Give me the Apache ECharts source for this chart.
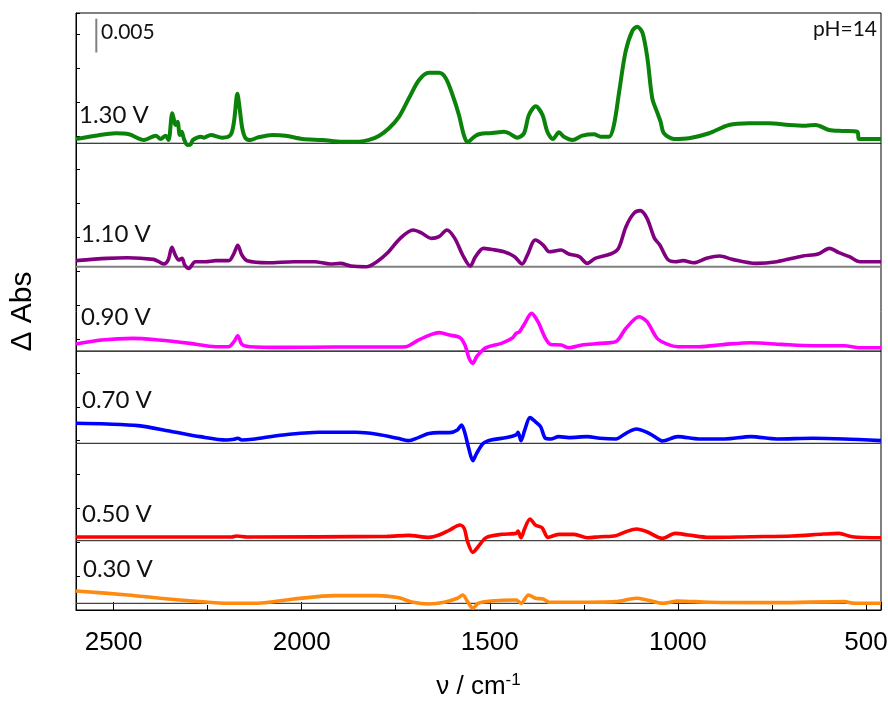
<!DOCTYPE html>
<html>
<head>
<meta charset="utf-8">
<script src="https://cdn.jsdelivr.net/npm/echarts@6/dist/echarts.min.js"></script>
<style>
html,body{margin:0;padding:0;background:#fff;}
#chart{width:888px;height:711px;}
</style>
</head>
<body>
<div id="chart"></div>
<script>
// wavenumber (cm^-1) vs. dAbs (units of 1e-3), each spectrum relative to its own baseline
const potentials = ['1.30 V', '1.10 V', '0.90 V', '0.70 V', '0.50 V', '0.30 V'];
const colors = ['#0b830b', '#800080', '#ff00ff', '#0000ff', '#ff0000', '#ff8a10'];
const offsets = [68.90, 50.68, 38.23, 24.61, 10.23, 0.99];
const xTicks = [2500, 2000, 1500, 1000, 500];
const scaleBar = [[2546, 82.3], [2546, 87.3]]; // 0.005 = 5 units

const v130 = [[2600,0.63],[2548,1.12],[2494,1.48],[2459,1.33],[2419,0.49],[2388,1.12],[2375,0.63],[2362,1.12],[2354,0.49],[2344,4.43],[2335,2.70],[2330,3.19],[2324,1.23],[2319,1.71],[2313,0.63],[2304,-0.25],[2295,-0.15],[2289,0.49],[2268,0.97],[2260,0.83],[2242,1.23],[2211,0.83],[2189,1.23],[2180,3.19],[2171,7.3],[2165,5.17],[2158,2.21],[2149,0.74],[2136,0.49],[2118,0.83],[2078,1.23],[2043,1.12],[1998,0.63],[1945,0.49],[1892,0.24],[1848,0.24],[1821,0.49],[1794,1.12],[1768,2.21],[1741,3.93],[1715,6.64],[1688,9.34],[1662,10.4],[1635,10.4],[1617,9.60],[1599,7.13],[1582,4.18],[1569,1.23],[1559,0.15],[1546,0.74],[1537,1.12],[1529,1.33],[1511,1.48],[1502,1.48],[1462,1.71],[1449,1.48],[1427,0.83],[1409,1.48],[1396,4.18],[1378,5.45],[1360,4.18],[1347,1.71],[1332,0.63],[1316,1.62],[1303,0.97],[1280,0.49],[1254,1.12],[1223,1.33],[1205,0.97],[1183,0.97],[1170,2.70],[1156,7.62],[1139,13.52],[1121,16.6],[1108,17.2],[1094,16.3],[1081,12.55],[1068,6.64],[1054,4.43],[1046,3.19],[1037,1.48],[1010,0.63],[970,0.74],[917,1.48],[864,2.70],[811,2.95],[758,2.95],[704,2.70],[660,2.60],[634,2.70],[598,1.96],[563,1.82],[523,1.71],[518,0.63],[460,0.63]];

const v110 = [[2600,0.89],[2518,1.23],[2463,1.33],[2394,1.08],[2380,0.74],[2366,0.39],[2355,0.98],[2345,2.85],[2336,1.72],[2327,0.98],[2318,1.23],[2311,0.25],[2300,-0.25],[2283,0.74],[2256,0.74],[2228,0.89],[2194,0.89],[2180,1.97],[2170,3.15],[2159,1.72],[2145,0.89],[2090,0.59],[2021,0.74],[1966,0.74],[1924,0.39],[1897,0.49],[1869,0.10],[1828,0.00],[1800,0.74],[1773,1.97],[1738,4.18],[1704,5.41],[1683,5.02],[1655,4.18],[1635,4.43],[1614,5.41],[1593,4.18],[1572,1.72],[1552,0.10],[1538,1.48],[1517,2.71],[1497,2.56],[1462,2.21],[1434,1.48],[1414,0.39],[1400,1.72],[1379,3.94],[1358,3.20],[1342,2.21],[1310,2.46],[1290,1.87],[1262,1.48],[1241,0.49],[1220,1.23],[1179,1.87],[1158,2.71],[1138,5.91],[1117,7.87],[1100,8.27],[1082,7.14],[1062,4.18],[1048,3.20],[1027,1.08],[1007,0.74],[986,0.89],[958,0.59],[924,1.23],[889,1.57],[855,1.08],[793,0.49],[737,0.74],[668,1.57],[627,1.87],[597,2.71],[572,2.07],[544,1.48],[516,0.74],[460,0.74]];

const v090 = [[2600,1.03],[2532,1.62],[2449,1.87],[2380,1.62],[2297,1.13],[2228,0.64],[2194,0.64],[2180,1.38],[2170,2.26],[2159,0.98],[2138,0.64],[2049,0.54],[1911,0.59],[1773,0.59],[1724,0.64],[1690,1.62],[1655,2.46],[1635,2.71],[1607,2.36],[1579,1.97],[1566,0.89],[1555,-1.08],[1545,-1.82],[1535,-0.84],[1510,0.49],[1469,1.13],[1441,1.87],[1430,2.61],[1421,2.85],[1407,4.08],[1389,5.56],[1372,4.33],[1352,1.87],[1338,0.98],[1310,0.89],[1290,0.49],[1255,0.89],[1207,1.13],[1165,1.38],[1138,3.35],[1103,5.07],[1082,4.33],[1055,1.87],[1027,0.98],[1000,0.64],[944,0.64],[875,0.98],[806,1.23],[724,0.98],[641,0.79],[558,0.79],[516,0.49],[460,0.49]];

const v070 = [[2600,2.95],[2518,2.85],[2435,2.61],[2352,1.82],[2270,0.98],[2200,0.49],[2180,0.59],[2170,0.74],[2159,0.49],[2131,0.59],[2049,1.23],[1952,1.62],[1855,1.62],[1800,1.33],[1745,0.74],[1717,0.39],[1690,0.84],[1662,1.43],[1635,1.57],[1607,1.57],[1586,1.97],[1575,2.71],[1566,1.48],[1556,-0.74],[1545,-2.56],[1535,-1.48],[1517,0.00],[1497,0.49],[1455,0.84],[1430,1.23],[1425,1.62],[1417,0.39],[1407,1.97],[1393,3.79],[1379,3.20],[1365,2.46],[1352,0.74],[1338,0.64],[1317,0.98],[1290,0.84],[1241,0.98],[1207,0.74],[1165,0.64],[1138,1.48],[1110,2.12],[1082,1.62],[1062,0.98],[1041,0.34],[1000,0.98],[944,0.64],[875,0.64],[806,0.98],[737,0.64],[641,0.74],[558,0.64],[460,0.39]];

const v050 = [[2600,0.54],[2187,0.54],[2173,0.69],[2145,0.54],[1773,0.64],[1717,0.79],[1662,0.49],[1635,0.84],[1607,1.57],[1579,2.31],[1568,1.82],[1559,-0.15],[1545,-1.72],[1531,-0.89],[1510,0.44],[1469,0.94],[1430,1.08],[1425,1.43],[1417,0.44],[1407,1.82],[1393,3.20],[1379,2.31],[1361,1.92],[1345,0.49],[1317,0.94],[1276,0.94],[1241,0.44],[1207,0.59],[1165,0.74],[1138,1.33],[1110,1.72],[1082,1.33],[1041,0.34],[1007,1.08],[972,0.84],[917,0.49],[806,0.59],[696,0.69],[613,0.98],[572,1.08],[537,0.59],[460,0.44]];

const v030 = [[2600,1.82],[2463,1.23],[2325,0.49],[2187,0.00],[2118,0.00],[2021,0.64],[1911,1.13],[1800,1.13],[1745,0.84],[1704,0.15],[1662,-0.10],[1621,0.15],[1586,0.74],[1572,1.23],[1559,0.25],[1545,-0.74],[1531,0.00],[1497,0.34],[1430,0.49],[1417,0.00],[1397,1.23],[1379,0.74],[1358,0.64],[1342,0.15],[1276,0.15],[1165,0.25],[1110,0.74],[1082,0.49],[1041,0.00],[1000,0.34],[917,0.15],[737,0.10],[558,0.25],[530,0.00],[460,0.00]];

const spectra = [v130, v110, v090, v070, v050, v030];
const xMin = 460, xMax = 2600;
const baseColors = ['#000000', '#7f7f7f', '#000000', '#3a3a3a', '#444444', '#444444'];
const labelPos = [[79, 118.5], [81, 237.5], [81, 320], [82, 403.5], [82, 517], [83, 572.5]];

const chart = echarts.init(document.getElementById('chart'), null, {renderer: 'canvas'});
const series = [];
spectra.forEach((d, i) => {
  series.push({
    type: 'line', name: 'base' + i, z: 1, silent: true, symbol: 'none',
    data: [[xMax, offsets[i]], [xMin, offsets[i]]],
    lineStyle: {color: baseColors[i], width: i === 1 ? 2 : 1.2}
  });
  series.push({
    type: 'line', name: potentials[i], z: 3, symbol: 'none', smooth: 0.3,
    data: d.map(p => [p[0], p[1] + offsets[i]]),
    lineStyle: {color: colors[i], width: i === 0 ? 4 : 3.6}
  });
});
series.push({
  type: 'line', name: 'scale', z: 3, symbol: 'none', data: scaleBar,
  lineStyle: {color: '#808080', width: 2}
});

const graphics = potentials.map((t, i) => ({
  type: 'text', left: labelPos[i][0], top: labelPos[i][1] - 15,
  style: {text: t, font: '24px Lato', fill: '#111'}
}));
graphics.push({type: 'text', left: 101, top: 35 - 13, style: {text: '0.005', font: '21px Lato', fill: '#111'}});
graphics.push({type: 'text', right: 888 - 877, top: 31.5 - 13, style: {text: 'pH=14', font: '21px Lato', fill: '#111'}});

chart.setOption({
  animation: false,
  backgroundColor: '#fff',
  grid: {left: 76, right: 7, top: 13, bottom: 101, show: true, borderColor: '#000', borderWidth: 1,
         containLabel: false, outerBoundsMode: 'none'},
  xAxis: {
    type: 'value', inverse: true, min: xMin, max: xMax,
    splitLine: {show: false},
    axisLine: {lineStyle: {color: '#000', width: 1}},
    axisTick: {inside: true, length: 8, lineStyle: {color: '#000'}},
    minorTick: {show: true, splitNumber: 2, length: 5, lineStyle: {color: '#000'}},
    axisLabel: {
      fontSize: 26, fontFamily: 'Liberation Sans', color: '#000', margin: 20,
      showMinLabel: false, showMaxLabel: false, hideOverlap: false,
      formatter: v => xTicks.indexOf(v) >= 0 ? String(v) : ''
    },
    name: '{a|ν / cm}{s|-1}', nameLocation: 'middle', nameGap: 62,
    nameTextStyle: {
      rich: {
        a: {fontSize: 26, fontFamily: 'Liberation Sans', color: '#000'},
        s: {fontSize: 17, fontFamily: 'Liberation Sans', color: '#000', verticalAlign: 'top', padding: [0, 0, 12, 0]}
      }
    }
  },
  yAxis: {
    type: 'value', min: 0, max: 88.13, interval: 5,
    splitLine: {show: false},
    axisLine: {show: true, lineStyle: {color: '#000', width: 1}},
    axisTick: {show: true, inside: true, length: 4, lineStyle: {color: '#000'}},
    axisLabel: {show: false},
    name: 'Δ Abs', nameLocation: 'middle', nameGap: 38, nameRotate: 90,
    nameTextStyle: {fontSize: 30, fontFamily: 'Liberation Sans', color: '#000'}
  },
  graphic: graphics,
  series: series
});
</script>
</body>
</html>
